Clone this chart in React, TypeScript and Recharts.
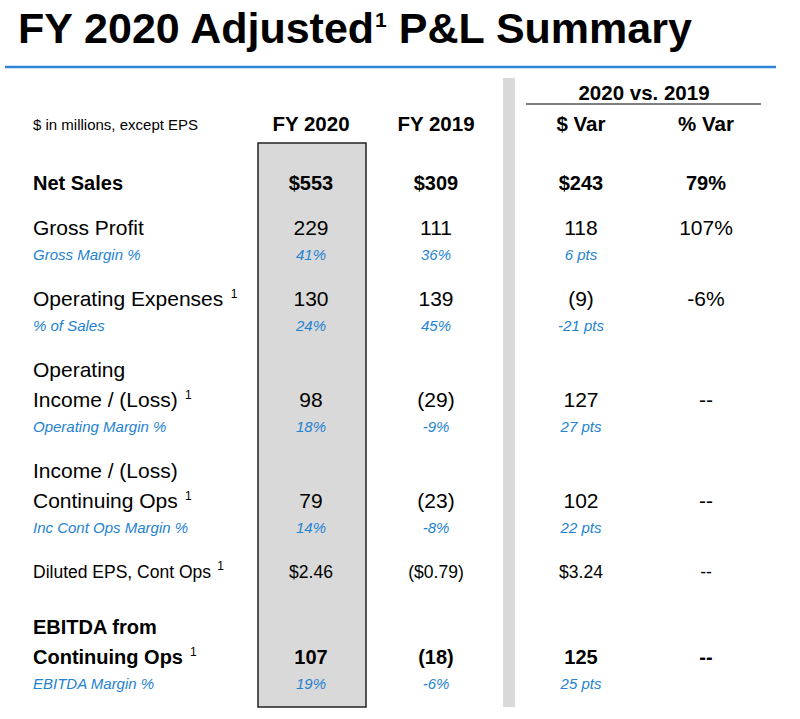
import React from "react";
import { Surface, Layer, Text, Rectangle } from "recharts";

// table content
const titleMain = "FY 2020 Adjusted";
const titleTail = " P&L Summary";
const unitNote = "$ in millions, except EPS";
const groupHead = "2020 vs. 2019";
const columnHeads = ["FY 2020", "FY 2019", "$ Var", "% Var"];

const rowLabels = [
  ["Net Sales"],
  ["Gross Profit"],
  ["Operating Expenses"],
  ["Operating", "Income / (Loss)"],
  ["Income / (Loss)", "Continuing Ops"],
  ["Diluted EPS, Cont Ops"],
  ["EBITDA from", "Continuing Ops"],
];
const rowFootnote = [false, false, true, true, true, true, true];
const rowBold = [true, false, false, false, false, false, true];
const fy2020 = ["$553", "229", "130", "98", "79", "$2.46", "107"];
const fy2019 = ["$309", "111", "139", "(29)", "(23)", "($0.79)", "(18)"];
const dollarVar = ["$243", "118", "(9)", "127", "102", "$3.24", "125"];
const pctVar = ["79%", "107%", "-6%", "--", "--", "--", "--"];

const marginLabels = [null, "Gross Margin %", "% of Sales", "Operating Margin %", "Inc Cont Ops Margin %", null, "EBITDA Margin %"];
const margin2020 = [null, "41%", "24%", "18%", "14%", null, "19%"];
const margin2019 = [null, "36%", "45%", "-9%", "-8%", null, "-6%"];
const marginVar = [null, "6 pts", "-21 pts", "27 pts", "22 pts", null, "25 pts"];

// layout
const W = 800;
const H = 719;
const FONT = "'Liberation Sans', Arial, Helvetica, sans-serif";
const BLUE = "#2382d2";
const GREY = "#d9d9d9";
const rowY = [183, 228, 299, 400, 501, 572, 657];
const colX = [311, 436, 581, 706];
const labelX = 33;

const base = (cy: number, size: number) => cy + size * 0.355;

export default function App() {
  const cells: React.ReactNode[] = [];

  rowLabels.forEach((lines, i) => {
    const bold = rowBold[i];
    const size = i === 5 ? 17.5 : bold ? 20 : 21;
    const weight = bold ? "bold" : "normal";
    const cy = rowY[i];

    lines.forEach((line, j) => {
      const y = cy - (lines.length - 1 - j) * 30.5;
      const last = j === lines.length - 1;
      cells.push(
        <text key={`l${i}-${j}`} x={labelX} y={base(y, size)} fontSize={size} fontWeight={weight} fill="#000" fontFamily={FONT}>
          {line}
          {last && rowFootnote[i] ? (
            <tspan dx={size * 0.35} dy={-8} fontSize={12} fontWeight="normal">1</tspan>
          ) : null}
        </text>
      );
    });

    [fy2020[i], fy2019[i], dollarVar[i], pctVar[i]].forEach((v, k) => {
      cells.push(
        <Text key={`v${i}-${k}`} x={colX[k]} y={cy} textAnchor="middle" verticalAnchor="middle" fontSize={size} fontWeight={weight} fill="#000" fontFamily={FONT}>
          {v}
        </Text>
      );
    });

    if (marginLabels[i]) {
      const sy = cy + 27;
      cells.push(
        <text key={`m${i}`} x={labelX} y={base(sy, 15)} fontSize={15} fontStyle="italic" fill={BLUE} fontFamily={FONT}>
          {marginLabels[i]}
        </text>
      );
      [margin2020[i], margin2019[i], marginVar[i]].forEach((v, k) => {
        cells.push(
          <Text key={`mv${i}-${k}`} x={colX[k]} y={sy} textAnchor="middle" verticalAnchor="middle" fontSize={15} fontStyle="italic" fill={BLUE} fontFamily={FONT}>
            {v as string}
          </Text>
        );
      });
    }
  });

  return (
    <div style={{ width: W, height: H, background: "#fff" }}>
      <style>{"body{margin:0;background:#fff}"}</style>
      <Surface width={W} height={H}>
        <Layer>
          <text x={18} y={43.3} fontSize={43} fontWeight="bold" fill="#000" fontFamily={FONT}>
            {titleMain}
            <tspan dx={1} dy={-16} fontSize={21}>1</tspan>
            <tspan dy={16}>{titleTail}</tspan>
          </text>
          <line x1={5} x2={776} y1={67} y2={67} stroke="#2e86d4" strokeWidth={2.5} />
        </Layer>

        <Rectangle x={503} y={78} width={12} height={629} fill={GREY} />
        <Rectangle x={258} y={143} width={108} height={564} fill={GREY} stroke="#222" strokeWidth={1.5} />

        <Layer>
          <Text x={644} y={93} textAnchor="middle" verticalAnchor="middle" fontSize={20.5} fontWeight="bold" fill="#000" fontFamily={FONT}>
            {groupHead}
          </Text>
          <line x1={526} x2={761} y1={104} y2={104} stroke="#000" strokeWidth={1.2} />
          <Text x={labelX} y={125} verticalAnchor="middle" fontSize={15} fill="#000" fontFamily={FONT}>
            {unitNote}
          </Text>
          {columnHeads.map((h, k) => (
            <Text key={h} x={colX[k]} y={124} textAnchor="middle" verticalAnchor="middle" fontSize={20.5} fontWeight="bold" fill="#000" fontFamily={FONT}>
              {h}
            </Text>
          ))}
        </Layer>

        <Layer>{cells}</Layer>
      </Surface>
    </div>
  );
}
